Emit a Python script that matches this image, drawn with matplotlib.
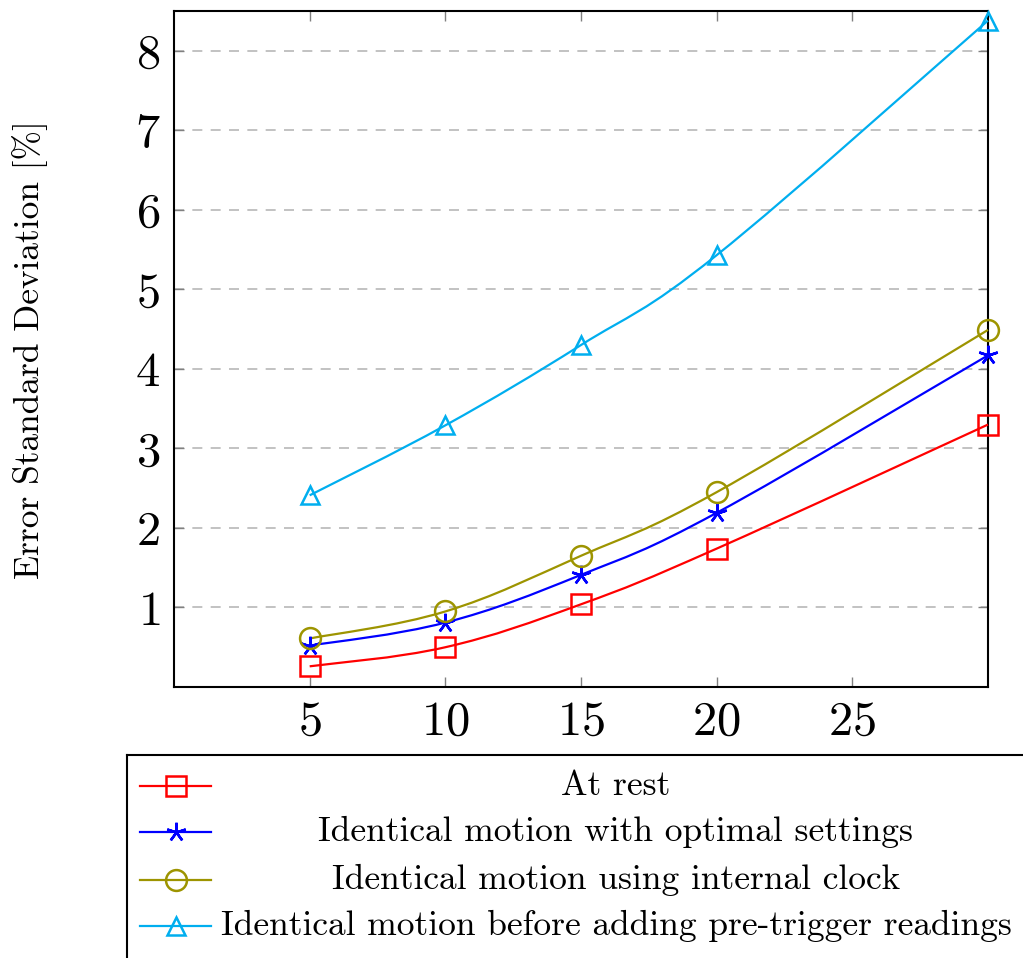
import matplotlib
matplotlib.use("Agg")
import matplotlib.pyplot as plt
from matplotlib.path import Path
from matplotlib.patches import PathPatch
from matplotlib.lines import Line2D
import numpy as np

plt.rcParams["font.family"] = "cmr10"
plt.rcParams["mathtext.fontset"] = "cm"
plt.rcParams["axes.formatter.use_mathtext"] = True

# Data
x_vals = [5, 10, 15, 20, 30]
at_rest = [0.26, 0.50, 1.04, 1.74, 3.30]
optimal = [0.52, 0.81, 1.41, 2.19, 4.17]
internal_clock = [0.61, 0.95, 1.65, 2.45, 4.49]
pre_trigger = [2.41, 3.29, 4.30, 5.43, 8.38]

labels = ["At rest",
          "Identical motion with optimal settings",
          "Identical motion using internal clock",
          "Identical motion before adding pre-trigger readings"]
x_ticks = [5, 10, 15, 20, 25]
y_ticks = [1, 2, 3, 4, 5, 6, 7, 8]

series = [at_rest, optimal, internal_clock, pre_trigger]
colors = ["#ff0000", "#0000ff", "#9d9400", "#00aeef"]
markers = ["s", (5, 2, 0), "o", "^"]
msizes = [15, 14, 15, 13]


def smooth_path(xs, ys, tension=0.55):
    """Bezier path through the points, like pgfplots' smooth option."""
    pts = np.column_stack([xs, ys]).astype(float)
    n = len(pts)
    tang = np.zeros_like(pts)
    for i in range(n):
        lo, hi = max(i - 1, 0), min(i + 1, n - 1)
        tang[i] = (pts[hi] - pts[lo]) * tension / 3.0
    verts = [pts[0]]
    codes = [Path.MOVETO]
    for i in range(n - 1):
        verts += [pts[i] + tang[i], pts[i + 1] - tang[i + 1], pts[i + 1]]
        codes += [Path.CURVE4] * 3
    return Path(verts, codes)


W, H = 1023, 958
fig = plt.figure(figsize=(W / 100, H / 100), dpi=100)
ax = fig.add_axes([174 / W, 1 - 687 / H, (988 - 174) / W, (687 - 11) / H])

for ys, c, m, ms in zip(series, colors, markers, msizes):
    ax.add_patch(PathPatch(smooth_path(x_vals, ys), fill=False, edgecolor=c,
                           lw=1.6, zorder=3, clip_on=False))
    ax.plot(x_vals, ys, ls="none", marker=m, ms=ms, mfc="none", mec=c,
            mew=1.8, zorder=4, clip_on=False)

ax.set_xlim(0, 30)
ax.set_ylim(0, 8.5)
ax.set_xticks(x_ticks)
ax.set_yticks(y_ticks)
ax.tick_params(direction="in", length=7, width=1, color="#808080",
               top=True, right=True, labelsize=35, pad=10)
ax.yaxis.grid(True, ls=(0, (6, 5)), color="#b8b8b8", lw=1.2)
ax.set_axisbelow(True)
for s in ax.spines.values():
    s.set_linewidth(1.5)
fig.text(30 / W, 1 - 350 / H, "Error Standard Deviation [%]", rotation=90,
         ha="center", va="center", fontsize=25.5)

# legend box drawn by hand so the texts can be centred as in the reference
lax = fig.add_axes([127 / W, 1 - 970 / H, (1035 - 127) / W, (970 - 755) / H])
lax.set_xlim(127, 1035)
lax.set_ylim(970, 755)
lax.set_xticks([])
lax.set_yticks([])
for s in lax.spines.values():
    s.set_linewidth(1.5)
row_y = [786, 832, 880, 926]
for ry, c, m, ms, lab in zip(row_y, colors, markers, msizes, labels):
    lax.add_line(Line2D([140, 211], [ry, ry], color=c, lw=1.6))
    lax.plot([175.5], [ry], marker=m, ms=ms, mfc="none", mec=c, mew=1.8)
    lax.text(616, ry, lab, ha="center", va="center", fontsize=25.5)

fig.savefig("out.png", dpi=100)
